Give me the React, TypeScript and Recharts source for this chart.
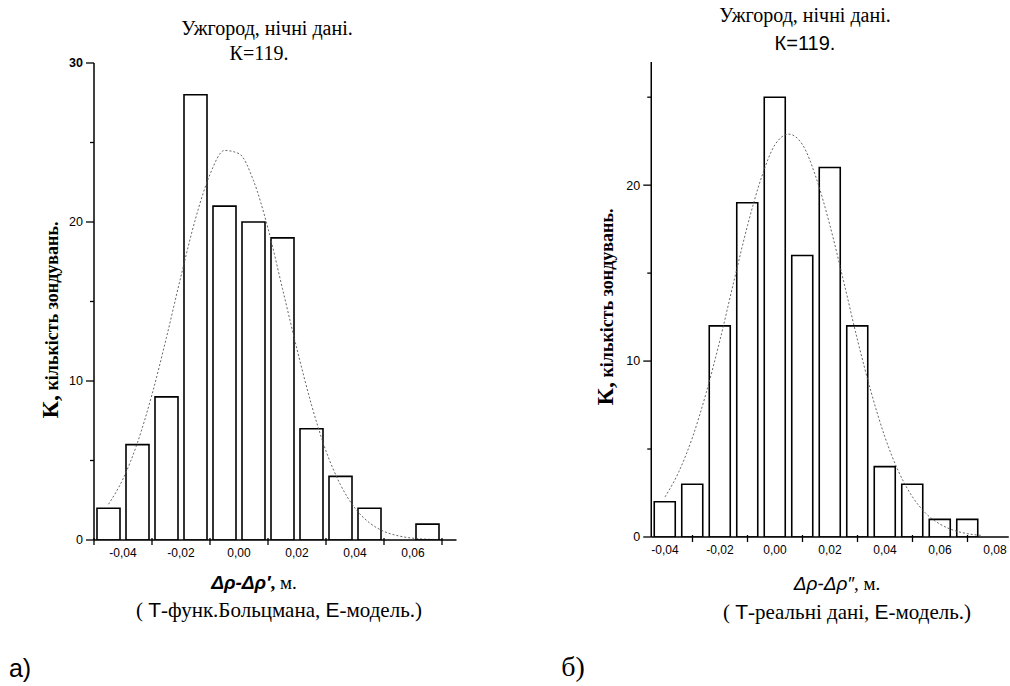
import React from 'react';
import { ComposedChart, Bar, Line, XAxis, YAxis } from 'recharts';

// panel a) - histogram bins (centres) and counts
const binsA = [-0.045, -0.035, -0.025, -0.015, -0.005, 0.005, 0.015, 0.025, 0.035, 0.045, 0.055, 0.065];
const countsA = [2, 6, 9, 28, 21, 20, 19, 7, 4, 2, 0, 1];
// fitted curve
const fitXA = [-0.045, -0.04, -0.035, -0.03, -0.025, -0.02, -0.015, -0.01, -0.005, 0, 0.005, 0.01, 0.015, 0.02, 0.025, 0.03, 0.035, 0.04, 0.045, 0.05, 0.055, 0.06, 0.065, 0.07];
const fitYA = [2.25, 3.84, 6.13, 9.15, 12.75, 16.6, 20.2, 23.0, 24.5, 24.3, 22.6, 19.6, 15.8, 12.0, 8.5, 5.6, 3.47, 2.0, 1.08, 0.54, 0.26, 0.11, 0.05, 0.02];
const xTicksA = [-0.05, -0.04, -0.03, -0.02, -0.01, 0, 0.01, 0.02, 0.03, 0.04, 0.05, 0.06, 0.07];
const yTicksA = [0, 5, 10, 15, 20, 25, 30];

// panel б)
const binsB = [-0.04, -0.03, -0.02, -0.01, 0, 0.01, 0.02, 0.03, 0.04, 0.05, 0.06, 0.07];
const countsB = [2, 3, 12, 19, 25, 16, 21, 12, 4, 3, 1, 1];
const fitXB = [-0.04, -0.035, -0.03, -0.025, -0.02, -0.015, -0.01, -0.005, 0, 0.005, 0.01, 0.015, 0.02, 0.025, 0.03, 0.035, 0.04, 0.045, 0.05, 0.055, 0.06, 0.065, 0.07, 0.075];
const fitYB = [2.28, 3.7, 5.67, 8.21, 11.2, 14.5, 17.7, 20.4, 22.3, 22.9, 22.3, 20.4, 17.7, 14.5, 11.2, 8.21, 5.67, 3.7, 2.28, 1.32, 0.73, 0.38, 0.19, 0.09];
const xTicksB = [-0.04, -0.03, -0.02, -0.01, 0, 0.01, 0.02, 0.03, 0.04, 0.05, 0.06, 0.07, 0.08];
const yTicksB = [0, 5, 10, 15, 20, 25];

const SANS = '"Liberation Sans", Arial, sans-serif';
const SERIF = '"Liberation Serif", "Times New Roman", serif';

const fmt = (v: number) => v.toFixed(2).replace('.', ',');

// labels on even hundredths, small tick marks on the odd ones
const XTick = ({ x, y, payload }: any) => {
  const n = Math.round(payload.value * 100);
  if (n % 2 === 0) {
    return (
      <text x={x} y={y + 8} dy="0.71em" textAnchor="middle" fontFamily={SANS} fontSize={12} fill="#000">
        {fmt(payload.value)}
      </text>
    );
  }
  return <line x1={x} x2={x} y1={y - 2} y2={y + 5} stroke="#000" strokeWidth={1.3} />;
};

const makeYTick = (boldTop: number | null) => ({ x, y, payload }: any) => {
  const v = payload.value;
  const major = v % 10 === 0;
  return (
    <g>
      <line x1={x - (major ? 8 : 4)} x2={x} y1={y} y2={y} stroke="#000" strokeWidth={1.3} />
      {major && (
        <text
          x={x - 11}
          y={y}
          dy="0.35em"
          textAnchor="end"
          fontFamily={SANS}
          fontSize={12.5}
          fontWeight={v === boldTop ? 'bold' : 'normal'}
          fill="#000"
        >
          {v}
        </text>
      )}
    </g>
  );
};

const Histogram = ({ bins, counts, fitX, fitY, xTicks, yTicks, xDomain, yDomain, width, margin, barSize, boldTop }: any) => {
  const data = bins.map((b: number, i: number) => ({ x: b, k: counts[i] }));
  const fit = fitX.map((x: number, i: number) => ({ x, f: fitY[i] }));
  return (
    <ComposedChart width={width} height={570} data={data} margin={margin}>
      <XAxis
        dataKey="x"
        type="number"
        domain={xDomain}
        ticks={xTicks}
        interval={0}
        allowDataOverflow
        tickSize={0}
        tickMargin={0}
        tickLine={false}
        height={33}
        axisLine={{ stroke: '#000', strokeWidth: 1.5 }}
        tick={(p: any) => <XTick {...p} />}
      />
      {/* separate hidden axis for the fitted curve so it does not shrink the bars */}
      <XAxis xAxisId="fit" dataKey="x" type="number" domain={xDomain} allowDataOverflow hide />
      <YAxis
        type="number"
        domain={yDomain}
        ticks={yTicks}
        interval={0}
        allowDataOverflow
        width={40}
        tickSize={0}
        tickMargin={0}
        tickLine={false}
        axisLine={{ stroke: '#000', strokeWidth: 1.5 }}
        tick={makeYTick(boldTop)}
      />
      <Bar dataKey="k" fill="#fff" stroke="#000" strokeWidth={1.6} barSize={barSize} isAnimationActive={false} />
      <Line
        xAxisId="fit"
        data={fit}
        dataKey="f"
        type="monotone"
        stroke="#555"
        strokeWidth={0.9}
        strokeDasharray="2 2"
        dot={false}
        activeDot={false}
        isAnimationActive={false}
      />
    </ComposedChart>
  );
};

const abs = (x: number, y: number, extra: React.CSSProperties = {}): React.CSSProperties => ({
  position: 'absolute',
  left: x,
  top: y,
  transform: 'translate(-50%, -50%)',
  whiteSpace: 'nowrap',
  color: '#000',
  lineHeight: 1,
  ...extra,
});

const YLabel = ({ x, y }: { x: number; y: number }) => (
  <div style={abs(x, y, { transform: 'translate(-50%, -50%) rotate(-90deg)', fontFamily: SERIF, fontWeight: 'bold' })}>
    <span style={{ fontSize: 24 }}>К,</span>
    <span style={{ fontSize: 18 }}> кількість зондувань.</span>
  </div>
);

export default function App() {
  return (
    <div style={{ position: 'absolute', left: 0, top: 0, width: 1010, height: 686, background: '#fff', overflow: 'hidden' }}>
      <div style={{ position: 'absolute', left: 0, top: 0 }}>
        <Histogram
          bins={binsA}
          counts={countsA}
          fitX={fitXA}
          fitY={fitYA}
          xTicks={xTicksA}
          yTicks={yTicksA}
          xDomain={[-0.05, 0.075]}
          yDomain={[0, 30]}
          width={470}
          margin={{ top: 63, right: 13.5, left: 54, bottom: -3 }}
          barSize={23}
          boldTop={30}
        />
      </div>
      <div style={{ position: 'absolute', left: 500, top: 0 }}>
        <Histogram
          bins={binsB}
          counts={countsB}
          fitX={fitXB}
          fitY={fitYB}
          xTicks={xTicksB}
          yTicks={yTicksB}
          xDomain={[-0.045, 0.085]}
          yDomain={[0, 27]}
          width={510}
          margin={{ top: 62, right: 1.25, left: 111.25, bottom: 0 }}
          barSize={21}
          boldTop={null}
        />
      </div>

      {/* panel a) texts */}
      <div style={abs(267, 28, { fontFamily: SERIF, fontSize: 20 })}>Ужгород, нічні дані.</div>
      <div style={abs(259, 53, { fontFamily: SERIF, fontSize: 20 })}>К=119.</div>
      <YLabel x={50} y={320} />
      <div style={abs(254, 582, { fontFamily: SERIF, fontSize: 19 })}>
        <span style={{ fontFamily: SANS, fontStyle: 'italic', fontWeight: 'bold' }}>Δρ-Δρ′</span>
        <b>,</b> м.
      </div>
      <div style={abs(279, 610, { fontFamily: SERIF, fontSize: 21 })}>
        ( <span style={{ fontFamily: SANS }}>Т</span>-функ.Больцмана, <span style={{ fontFamily: SANS }}>Е</span>-модель.)
      </div>
      <div style={abs(20, 668, { fontFamily: SANS, fontSize: 25 })}>а)</div>

      {/* panel б) texts */}
      <div style={abs(805, 15, { fontFamily: SERIF, fontSize: 20 })}>Ужгород, нічні дані.</div>
      <div style={abs(805, 43, { fontFamily: SANS, fontSize: 20 })}>К=119.</div>
      <YLabel x={605} y={307} />
      <div style={abs(837, 583, { fontFamily: SERIF, fontSize: 19 })}>
        <span style={{ fontFamily: SANS, fontStyle: 'italic' }}>Δρ-Δρ″</span>, м.
      </div>
      <div style={abs(847, 612, { fontFamily: SERIF, fontSize: 21 })}>
        ( <span style={{ fontFamily: SANS }}>Т</span>-реальні дані, <span style={{ fontFamily: SANS }}>Е</span>-модель.)
      </div>
      <div style={abs(573, 667, { fontFamily: SERIF, fontSize: 28 })}>б)</div>
    </div>
  );
}
